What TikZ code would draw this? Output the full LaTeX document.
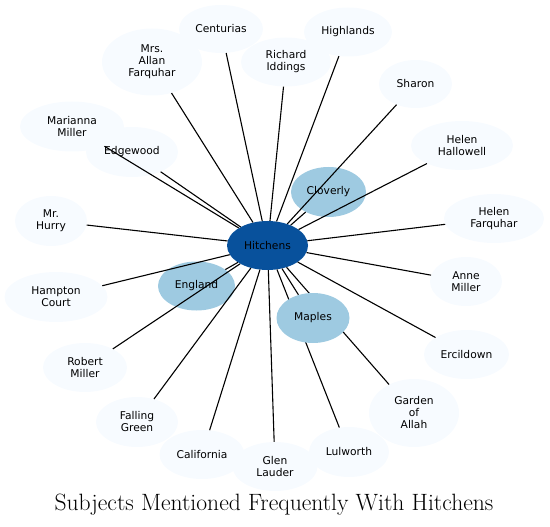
\documentclass[tikz,border=0pt]{standalone}
\usepackage{fontspec}
\usepackage{tikz}
\usetikzlibrary{shapes.geometric}
\newfontfamily\labelfont{DejaVu Sans}
\definecolor{subjlight}{HTML}{F7FBFF}
\definecolor{subjmid}{HTML}{9ECAE1}
\definecolor{subjdark}{HTML}{08519C}
\pgfdeclarelayer{front}
\pgfsetlayers{main,front}

\begin{document}
\begin{tikzpicture}[x=1pt,y=-1pt,
    subj/.style={ellipse, fill=subjlight, inner sep=0pt, minimum height=49pt, align=center, font=\labelfont\fontsize{10.7}{12}\selectfont},
    often/.style={subj, fill=subjmid},
    edge/.style={line width=1.1pt, black}]

        \useasboundingbox (0,0) rectangle (550,527);

        % Subjects
        \node[subj, minimum width=84pt, minimum height=48pt] (centurias) at (221,29) {Centurias};
        \node[subj, minimum width=100pt, minimum height=67pt] (allan) at (152,62) {Mrs.\\Allan\\Farquhar};
        \node[subj, minimum width=90pt] (iddings) at (286,62) {Richard\\Iddings};
        \node[subj, minimum width=88pt] (highlands) at (348,32) {Highlands};
        \node[subj, minimum width=73pt, minimum height=48pt] (sharon) at (415.5,84) {Sharon};
        \node[subj, minimum width=102pt] (hallowell) at (462,145.5) {Helen\\Hallowell};
        \node[often, minimum width=75pt, minimum height=50pt] (cloverly) at (328.5,192) {Cloverly};
        \node[subj, minimum width=100pt] (hfarquhar) at (494,218.5) {Helen\\Farquhar};
        \node[subj, minimum width=104pt, minimum height=50pt] (marianna) at (72,126.5) {Marianna\\Miller};
        \node[subj, minimum width=92pt, minimum height=50pt] (edgewood) at (132,152) {Edgewood};
        \node[subj, minimum width=72pt, minimum height=50pt] (hurry) at (51,221) {Mr.\\Hurry};
        \node[subj, minimum width=103pt, minimum height=50pt] (hampton) at (56,297) {Hampton\\Court};
        \node[often, minimum width=77pt] (england) at (196.5,286) {England};
        \node[subj, minimum width=72pt] (anne) at (466,281.5) {Anne\\Miller};
        \node[subj, minimum width=84pt] (robert) at (85,367.5) {Robert\\Miller};
        \node[subj, minimum width=85pt] (ercildown) at (466.5,354.5) {Ercildown};
        \node[subj, minimum width=90pt, minimum height=68pt] (garden) at (414,413) {Garden\\of\\Allah};
        \node[subj, minimum width=82pt, minimum height=50pt] (falling) at (137,422) {Falling\\Green};
        \node[subj, minimum width=85pt] (california) at (202,454.5) {California};
        \node[subj, minimum width=85pt] (glen) at (275,466.5) {Glen\\Lauder};
        \node[subj, minimum width=80pt, minimum height=50pt] (lulworth) at (349,452) {Lulworth};
        \begin{pgfonlayer}{front}
        \node[often, minimum width=73pt, minimum height=50pt] (maples) at (313,318) {Maples};
        \end{pgfonlayer}

        % Centre
        \node[subj, fill=subjdark, minimum width=81pt] (hitchens) at (267.5,245.5) {Hitchens};

        % Links
        \foreach \n in {centurias,allan,iddings,highlands,sharon,hallowell,cloverly,hfarquhar,
            marianna,edgewood,hurry,hampton,england,anne,maples,robert,ercildown,garden,
            falling,california,glen,lulworth}
            \draw[edge] (hitchens) -- (\n);

        % Title
        \node[font=\fontsize{23.6}{28}\selectfont] (title) at (274,505) {Subjects Mentioned Frequently With Hitchens};

\end{tikzpicture}
\end{document}
